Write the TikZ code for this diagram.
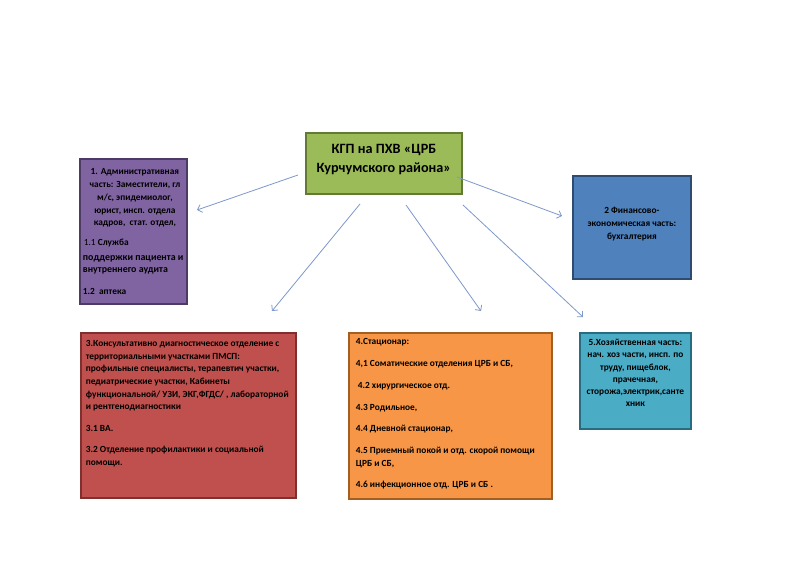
\documentclass[tikz,border=0pt]{standalone}
\usepackage{fontspec}
\setmainfont{Carlito}
\usetikzlibrary{arrows.meta}
\definecolor{purpfill}{HTML}{8064A2}\definecolor{purpline}{HTML}{4E3B63}
\definecolor{greenfill}{HTML}{9BBB59}\definecolor{greenline}{HTML}{637A35}
\definecolor{bluefill}{HTML}{4F81BD}\definecolor{blueline}{HTML}{2E4B70}
\definecolor{redfill}{HTML}{C0504D}\definecolor{redline}{HTML}{7F2F2D}
\definecolor{orfill}{HTML}{F79646}\definecolor{orline}{HTML}{A35E22}
\definecolor{tealfill}{HTML}{4BACC6}\definecolor{tealline}{HTML}{276C80}
\definecolor{arrowcol}{HTML}{7D98C9}
\tikzset{
  box/.style={draw, line width=1.8pt, anchor=north west, inner sep=0pt, align=left},
  link/.style={draw=arrowcol, line width=0.8pt, -{Straight Barb[length=4pt,width=8pt,line width=0.8pt]}},
}
\newcommand{\smallfs}{\fontsize{9.35}{12.7}\selectfont\bfseries}
\begin{document}
\begin{tikzpicture}[x=1pt,y=-1pt]
\useasboundingbox (0,0) rectangle (800,565);
\fill[white] (0,0) rectangle (800,565);

% centre box
\node[box, fill=greenfill, draw=greenline] (top) at (305,132)
 {\parbox[t][61pt][t]{156pt}{\fontsize{14.2}{19}\selectfont\bfseries\centering
  \rule{0pt}{21pt}КГП на ПХВ «ЦРБ\\Курчумского района»\par}};

% box 1
\node[box, fill=purpfill, draw=purpline] (b1) at (79,158)
 {\hspace{3pt}\parbox[t][145pt][t]{104pt}{\smallfs
  {\centering\rule{0pt}{16pt}1. Административная\\часть: Заместители, гл\\м/с, эпидемиолог,\\юрист, инсп. отдела\\кадров,\ \ стат. отдел,\par}
  \vspace{7pt}
  \raggedright\hspace*{1pt}{\mdseries 1.1} Служба\par
  \vspace{2pt}
  {\fontsize{9.9}{12.7}\selectfont поддержки пациента и\\внутреннего аудита\par}
  \vspace{9pt}
  1.2\ \ аптека\par}};

% box 2
\node[box, fill=bluefill, draw=blueline] (b2) at (572,175)
 {\parbox[t][103pt][t]{118pt}{\smallfs\centering
  \rule{0pt}{38pt}2 Финансово-\\экономическая часть:\\бухгалтерия\par}};

% box 3
\node[box, fill=redfill, draw=redline] (b3) at (80,332)
 {\hspace{5pt}\parbox[t][165pt][t]{210pt}{\smallfs\raggedright
  \rule{0pt}{13.5pt}3.Консультативно диагностическое отделение с\\
  территориальными участками ПМСП:\\
  профильные специалисты, терапевтич участки,\\
  педиатрические участки, Кабинеты\\
  функциональной/ УЗИ, ЭКГ,ФГДС/ , лабораторной\\
  и рентгенодиагностики\\[8.5pt]
  3.1 ВА.\\[8.5pt]
  3.2 Отделение профилактики и социальной\\
  помощи.\par}};

% box 4
\node[box, fill=orfill, draw=orline] (b4) at (348,332)
 {\hspace{7pt}\parbox[t][166pt][t]{196pt}{\smallfs\raggedright
  \rule{0pt}{12pt}4.Стационар:\\[9pt]
  4,1 Соматические отделения ЦРБ и СБ,\\[9pt]
  \hspace*{2pt}4.2 хирургическое отд.\\[9pt]
  4.3 Родильное,\\[9pt]
  4.4 Дневной стационар,\\[9pt]
  4.5 Приемный покой и отд. скорой помощи\\
  ЦРБ и СБ,\\[9pt]
  4.6 инфекционное отд. ЦРБ и СБ .\par}};

% box 5
\node[box, fill=tealfill, draw=tealline] (b5) at (579,332)
 {\parbox[t][96pt][t]{111pt}{\fontsize{9.35}{12.3}\selectfont\bfseries\centering
  \rule{0pt}{12.5pt}5.Хозяйственная часть:\\нач. хоз части, инсп. по\\труду, пищеблок,\\прачечная,\\сторожа,электрик,санте\\хник\par}};

% connector ends
\coordinate (s1) at (298,175); \coordinate (e1) at (197,210);
\coordinate (s2) at (457,177); \coordinate (e2) at (562,216);
\coordinate (s3) at (360,204); \coordinate (e3) at (272,311);
\coordinate (s4) at (406,205); \coordinate (e4) at (481,311);
\coordinate (s5) at (463,205); \coordinate (e5) at (583,317);
\draw[link] (s1) -- (e1);
\draw[link] (s2) -- (e2);
\draw[link] (s3) -- (e3);
\draw[link] (s4) -- (e4);
\draw[link] (s5) -- (e5);
\end{tikzpicture}
\end{document}
